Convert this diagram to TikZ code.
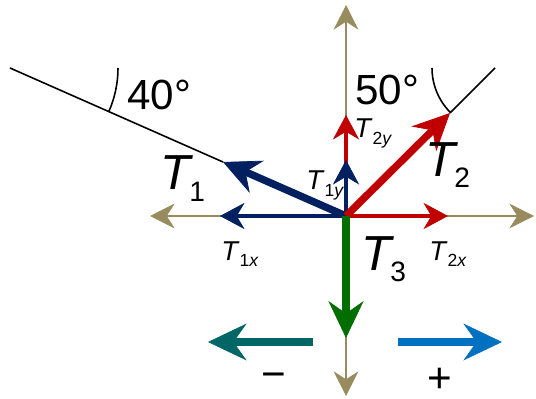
\documentclass[tikz,border=0pt]{standalone}
\usepackage{fontspec}
\setmainfont{Liberation Sans}
\usetikzlibrary{arrows.meta}

\definecolor{axisk}{RGB}{152,140,94}
\definecolor{navy}{RGB}{0,32,96}
\definecolor{tred}{RGB}{192,0,0}
\definecolor{tgreen}{RGB}{0,110,0}
\definecolor{negcol}{RGB}{0,102,102}
\definecolor{poscol}{RGB}{0,112,192}

\newcommand{\bigT}[1]{\fontsize{28}{28}\selectfont\textit{T}\kern-0.08em\raisebox{-6.5pt}{\fontsize{16}{16}\selectfont #1}}
\newcommand{\compT}[2]{\fontsize{15.5}{15.5}\selectfont\textit{T}\raisebox{-3.5pt}{\fontsize{10}{10}\selectfont #1\textit{#2}}}

\begin{document}
\begin{tikzpicture}[x=0.02cm, y=-0.02cm,
  axis/.style={draw=axisk, line width=1.1pt, -{Stealth[length=14pt, width=14pt, inset=4.5pt, line width=0.4pt]}},
  comp/.style={line width=1.8pt, -{Stealth[length=14pt, width=15pt, inset=4.5pt, line width=0.4pt]}},
  force/.style={line width=4.2pt, -{Stealth[length=21pt, width=20pt, inset=7pt, line width=0.4pt]}},
  sign/.style={line width=4.7pt, -{Stealth[length=22pt, width=21pt, inset=7.5pt, line width=0.4pt]}},
  rope/.style={line width=0.9pt},
  lab/.style={inner sep=0pt, anchor=base west},
  deg/.style={inner sep=0pt, anchor=base west, font=\fontsize{24}{24}\selectfont}
]
\useasboundingbox (0,0) rectangle (536,398);

\coordinate (O) at (346,216);
\coordinate (xl) at (150,216);
\coordinate (xr) at (534,216);
\coordinate (yu) at (346,5);
\coordinate (yd) at (346,396);
\coordinate (t1x) at (220,216);
\coordinate (t2x) at (448,216);
\coordinate (t1y) at (346,160);
\coordinate (t2y) at (346,115);
\coordinate (t1) at (223,162);
\coordinate (t2) at (450,113);
\coordinate (t3) at (346,338);
\coordinate (r1) at (10,68);
\coordinate (r2) at (495,68);
\coordinate (negs) at (313,342);
\coordinate (nege) at (208,342);
\coordinate (poss) at (398,342);
\coordinate (pose) at (502,342);

\draw[axis] (O) -- (xl);
\draw[axis] (O) -- (xr);
\draw[axis] (O) -- (yu);
\draw[axis] (O) -- (yd);

\draw[comp, tred] (O) -- (t2x);
\draw[comp, tred] (O) -- (t2y);
\draw[comp, navy] (O) -- (t1x);
\draw[comp, navy] (O) -- (t1y);

\draw[rope] (t1) -- (r1);
\draw[rope] (t2) -- (r2);
\draw[line width=0.9pt] (118,68) arc[start angle=0, end angle=24, radius=108];
\draw[line width=0.9pt] (432,68) arc[start angle=180, end angle=135, radius=63];

\draw[force, navy] (O) -- (t1);
\draw[force, tred] (O) -- (t2);
\draw[force, tgreen] (O) -- (t3);

\draw[sign, negcol] (negs) -- (nege);
\draw[sign, poscol] (poss) -- (pose);

\node[lab] (lT1) at (160,190) {\bigT{1}};
\node[lab] (lT2) at (425,176) {\bigT{2}};
\node[lab] (lT3) at (361,270) {\bigT{3}};
\node[lab] (lT1x) at (221,260) {\compT{1}{x}};
\node[lab] (lT2x) at (429,260) {\compT{2}{x}};
\node[lab] (lT1y) at (306,190) {\compT{1}{y}};
\node[lab] (lT2y) at (354,138) {\compT{2}{y}};
\node[deg] (l40) at (127,110) {40°};
\node[deg] (l50) at (355,105) {50°};
\node[inner sep=0pt, font=\fontsize{24}{24}\selectfont] (lneg) at (274,381) {\char"2212};
\node[inner sep=0pt, font=\fontsize{24}{24}\selectfont] (lpos) at (440,380) {+};
\end{tikzpicture}
\end{document}
